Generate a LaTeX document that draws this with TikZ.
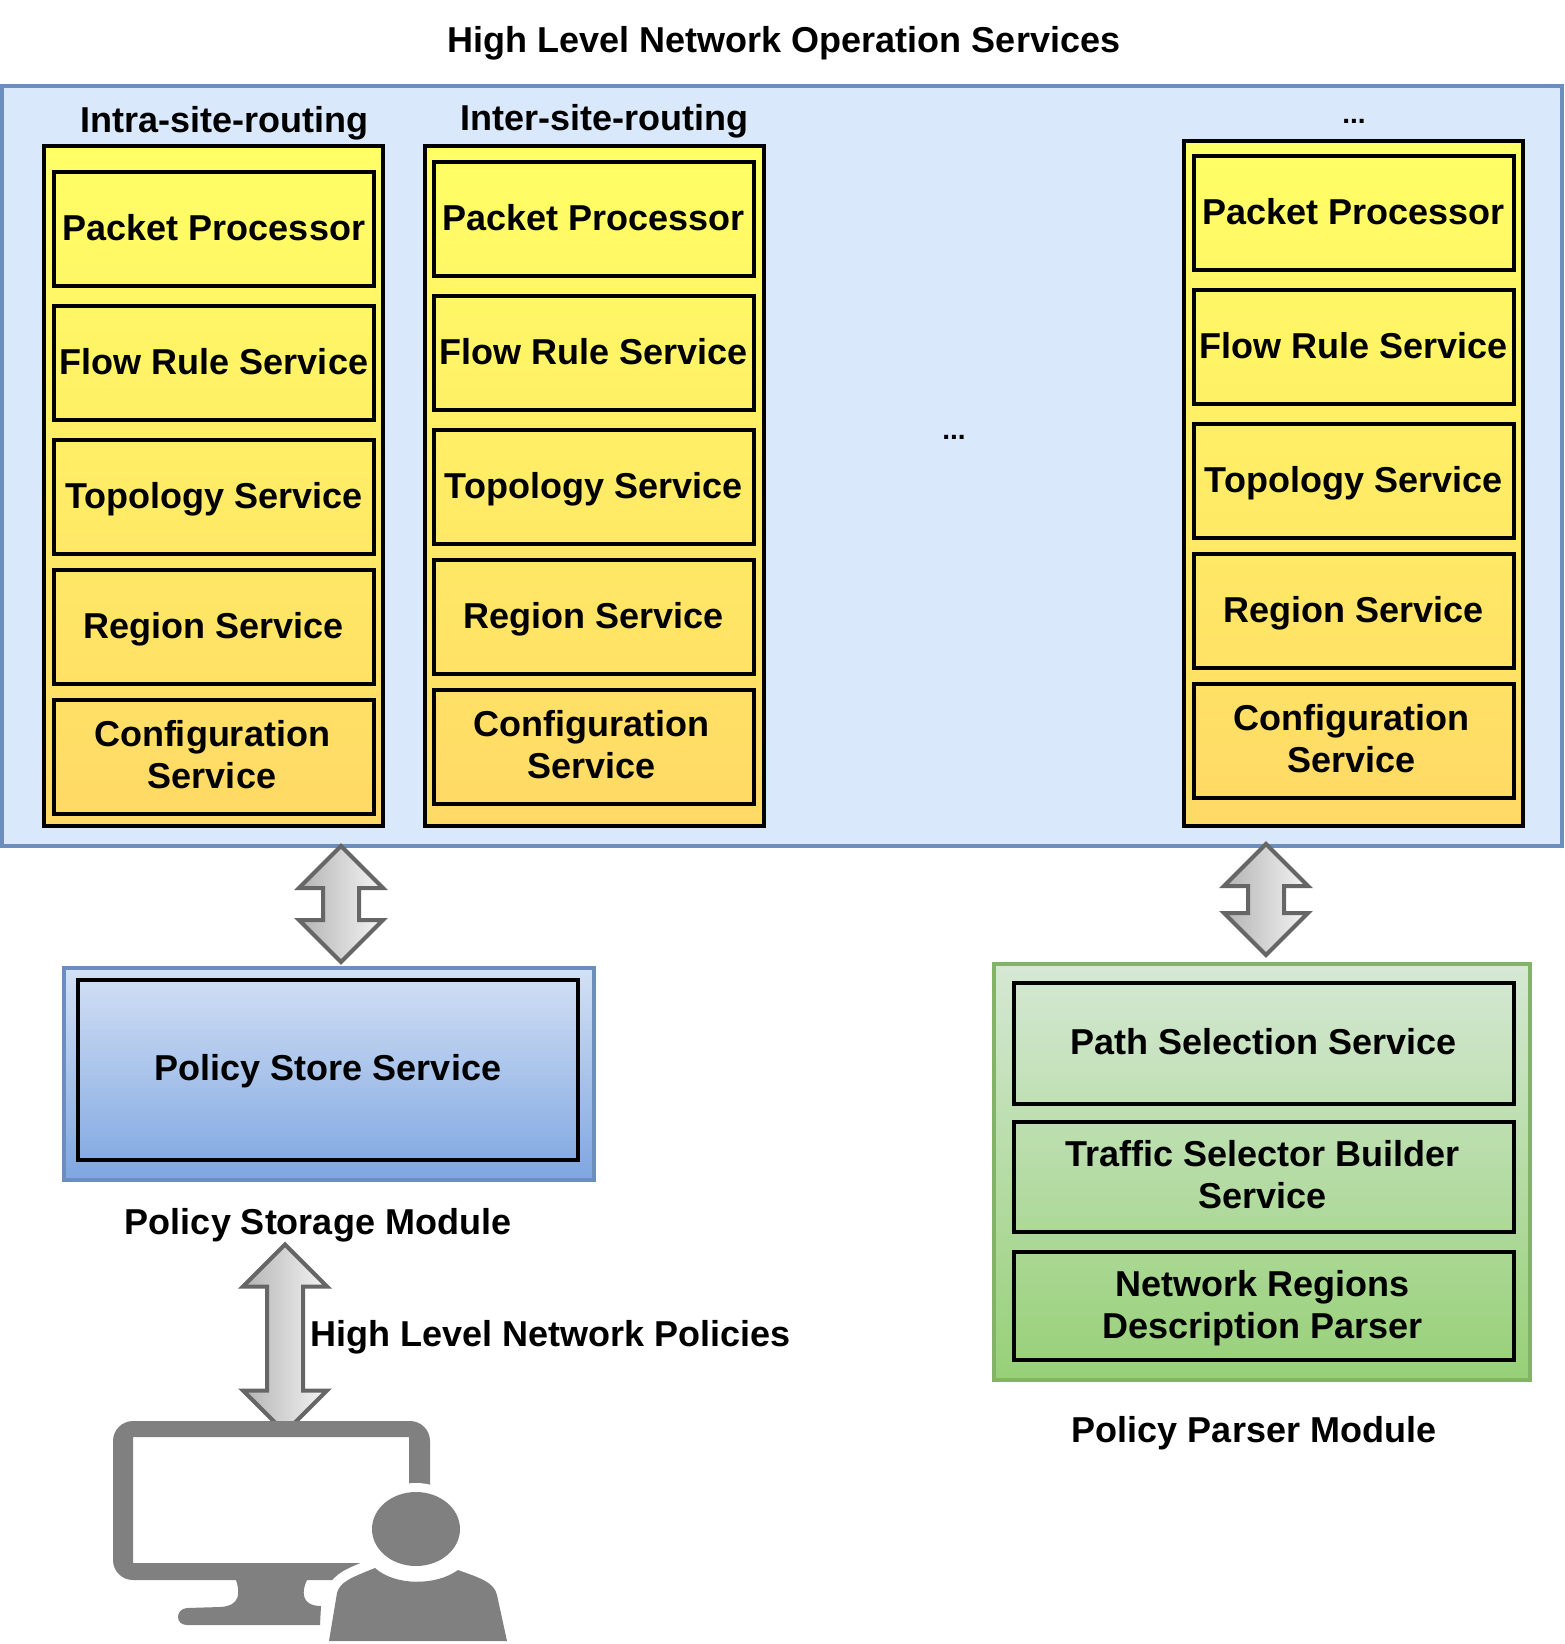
\documentclass[tikz,border=0pt]{standalone}
\usepackage{fontspec}
\setmainfont{Liberation Sans}
\usetikzlibrary{positioning, shapes.arrows}
\definecolor{sitefill}{HTML}{DAE8FC}
\definecolor{siteline}{HTML}{6C8EBF}
\definecolor{storetop}{HTML}{D4E1F5}
\definecolor{storebot}{HTML}{7EA6E0}
\definecolor{parsetop}{HTML}{D5E8D4}
\definecolor{parsebot}{HTML}{97D077}
\definecolor{parseline}{HTML}{82B366}
\definecolor{apptop}{HTML}{FFFF66}
\definecolor{appbot}{HTML}{FFD966}
\definecolor{icongray}{HTML}{808080}
\definecolor{arrowline}{HTML}{666666}
\definecolor{arrowleft}{HTML}{B3B3B3}
\definecolor{arrowright}{HTML}{F5F5F5}
\newcommand{\cfgtext}{Configuration\hspace*{2pt}\\Service\hspace*{2pt}\rule[-3pt]{0pt}{0pt}}
\tikzset{
  lab/.style     = {font=\bfseries\fontsize{18}{21}\selectfont, align=center, inner sep=0pt},
  dots/.style    = {lab, font=\bfseries\fontsize{14}{16}\selectfont},
  sitebox/.style = {rectangle, draw=siteline, line width=2pt, fill=sitefill, anchor=north west,
                    outer sep=0pt, minimum width=780pt, minimum height=380pt},
  appbox/.style  = {rectangle, draw=black, line width=2pt, top color=apptop, bottom color=appbot,
                    anchor=north west, outer sep=0pt, minimum width=169.5pt},
  inbox/.style   = {rectangle, draw=black, line width=2pt, lab, outer sep=0pt},
  svc/.style     = {inbox, minimum width=160pt, minimum height=57pt, text height=13.5pt, text depth=2pt},
  cfg/.style     = {inbox, minimum width=160pt, minimum height=57pt},
  wide/.style    = {inbox, minimum width=250pt},
  both/.style    = {double arrow, draw=arrowline, line width=2pt, left color=arrowleft, right color=arrowright,
                    rotate=90, inner xsep=0pt, inner ysep=8pt, outer sep=0pt,
                    double arrow head extend=12pt},
}
\begin{document}
\begin{tikzpicture}[x=0.5pt, y=-0.5pt]
\useasboundingbox (0,0) rectangle (1564,1644);

\node (title) [lab] at (784,43) {High Level Network Operation Services};
\node (sites) [sitebox] at (2,86) {};

% First column
\node (app1) [appbox, minimum height=340pt] at (44,146) {};
\node (lab1) [lab] at (224,123) {Intra-site-routing};
\node (pp1) [svc, anchor=north] at (214,172) {Packet Processor};
\node (fr1) [svc, below=10pt of pp1] {Flow Rule Service};
\node (ts1) [svc, below=10pt of fr1] {Topology Service};
\node (rs1) [svc, below=8pt of ts1]  {Region Service};
\node (cs1) [cfg, below=8pt of rs1]  {\cfgtext};

% Second column
\node (app2) [appbox, minimum height=340pt] at (424.5,146) {};
\node (lab2) [lab] at (604,121) {Inter-site-routing};
\node (pp2) [svc, anchor=north] at (593.5,162) {Packet Processor};
\node (fr2) [svc, below=10pt of pp2] {Flow Rule Service};
\node (ts2) [svc, below=10pt of fr2] {Topology Service};
\node (rs2) [svc, below=8pt of ts2]  {Region Service};
\node (cs2) [cfg, below=8pt of rs2]  {\cfgtext};

\node (gap) [dots] at (954,437) {...};

% Last column
\node (app3) [appbox, minimum height=342.75pt] at (1184,140.5) {};
\node (lab3) [dots] at (1354,121) {...};
\node (pp3) [svc, anchor=north] at (1353.5,156) {Packet Processor};
\node (fr3) [svc, below=10pt of pp3] {Flow Rule Service};
\node (ts3) [svc, below=10pt of fr3] {Topology Service};
\node (rs3) [svc, below=8pt of ts3]  {Region Service};
\node (cs3) [cfg, below=8pt of rs3]  {\cfgtext};

% Storage side
\node (store) [rectangle, draw=siteline, line width=2pt, top color=storetop, bottom color=storebot,
               anchor=north west, minimum width=265pt, minimum height=106pt] at (62,966) {};
\node (pss) [wide, minimum height=90pt, text height=13pt, text depth=2.4pt] at (328,1070) {Policy Store Service};
\node (storelab) [lab] at (318,1225) {Policy Storage Module};
\node (ar1) [both, minimum height=58pt] at (341,904) {};
\node (ar3) [both, minimum height=94pt] at (285,1338.5) {};
\node (polilab) [lab, anchor=west] at (310,1337) {High Level Network Policies};

% Parser side
\node (parse) [rectangle, draw=parseline, line width=2pt, top color=parsetop, bottom color=parsebot,
               anchor=north west, minimum width=268pt, minimum height=208pt] at (992,962) {};
\node (pth) [wide, minimum height=60.5pt, anchor=north, text height=13pt, text depth=2.4pt] at (1263.5,983) {Path Selection Service};
\node (tsb) [wide, minimum height=55pt, below=9pt of pth] {Traffic Selector Builder\hspace*{1pt}\\Service\hspace*{1pt}\rule[-3pt]{0pt}{0pt}};
\node (nrd) [wide, minimum height=54pt, below=10pt of tsb] {\rule{0pt}{15pt}Network Regions\hspace*{1pt}\\Description Parser\hspace*{1pt}};
\node (parselab) [lab] at (1254,1433) {Policy Parser Module};
\node (ar2) [both, minimum height=55.5pt] at (1266,899.5) {};

% User at the monitor
\fill [icongray] (235,1575) -- (236,1580) .. controls (240,1592) and (241,1606) .. (220,1607)
  -- (187,1608) .. controls (175,1609) and (175,1625) .. (187,1625) -- (320,1625) -- (321,1606)
  .. controls (300,1606) and (302,1590) .. (307,1580) -- (308,1575) -- cycle;
\fill [icongray, even odd rule] [rounded corners=10pt] (113,1421) rectangle (430,1580)
  [sharp corners] (133,1437) rectangle (409,1563);
\path [fill=white, draw=white, line width=10pt] (329,1641) -- (337,1593)
  .. controls (340,1582) and (350,1578) .. (375,1568) .. controls (395,1586) and (436,1586) .. (458,1570)
  .. controls (480,1578) and (494,1582) .. (497,1595) -- (507,1641) -- cycle;
\fill [icongray] (329,1641) -- (337,1593)
  .. controls (340,1582) and (350,1578) .. (375,1568) .. controls (395,1586) and (436,1586) .. (458,1570)
  .. controls (480,1578) and (494,1582) .. (497,1595) -- (507,1641) -- cycle;
\fill [white] (416,1529) ellipse [x radius=53, y radius=46];
\fill [icongray] (416,1529) ellipse [x radius=44, y radius=37];

\end{tikzpicture}
\end{document}
